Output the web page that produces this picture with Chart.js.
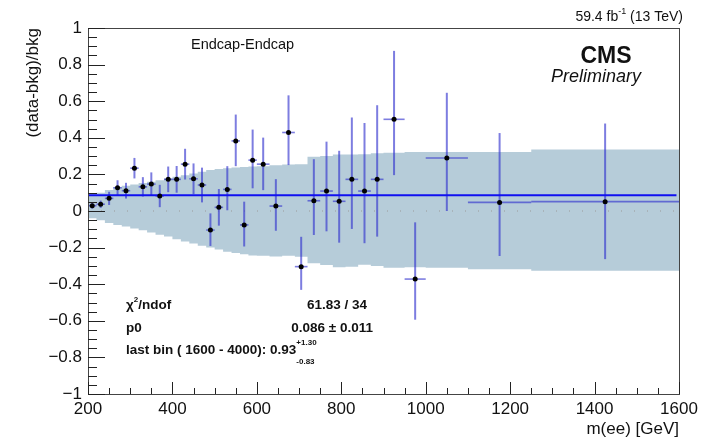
<!DOCTYPE html>
<html>
<head>
<meta charset="utf-8">
<script src="https://cdn.jsdelivr.net/npm/chart.js@4.4.1/dist/chart.umd.min.js"></script>
<style>
  body { margin: 0; background: #fff; }
  canvas { display: block; }
</style>
</head>
<body>
<canvas id="myChart" width="723" height="444"></canvas>
<script>
// BIN EDGES (m(ee) in GeV) - 35 bins
const binEdges = [200, 220, 240, 260, 280, 300, 320, 340, 360, 380, 400, 420, 440, 460, 480,
    500, 520, 540, 560, 580, 600, 630, 660, 690, 720, 750, 780, 810, 840, 870, 900,
    950, 1000, 1100, 1250, 1600];

// (data-bkg)/bkg per bin
const ratio = [0.029, 0.037, 0.069, 0.127, 0.111, 0.234, 0.132, 0.147, 0.082, 0.173,
    0.173, 0.256, 0.176, 0.142, -0.104, 0.020, 0.118, 0.383, -0.076, 0.278,
    0.256, 0.027, 0.429, -0.304, 0.056, 0.109, 0.053, 0.173, 0.109, 0.173,
    0.501, -0.372, 0.290, 0.047, 0.051];

// asymmetric statistical errors
const errUp = [0.016, 0.020, 0.036, 0.041, 0.043, 0.056, 0.053, 0.064, 0.061, 0.070,
    0.073, 0.084, 0.084, 0.095, 0.091, 0.100, 0.127, 0.144, 0.127, 0.167,
    0.145, 0.147, 0.203, 0.163, 0.227, 0.270, 0.276, 0.338, 0.372, 0.405,
    0.374, 0.310, 0.356, 0.379, 0.427];
const errDown = [0.016, 0.020, 0.036, 0.041, 0.043, 0.056, 0.053, 0.064, 0.061, 0.070,
    0.073, 0.084, 0.084, 0.095, 0.087, 0.100, 0.114, 0.138, 0.118, 0.154,
    0.142, 0.135, 0.178, 0.127, 0.187, 0.220, 0.226, 0.271, 0.285, 0.313,
    0.305, 0.222, 0.290, 0.293, 0.314];

// systematic band (upper / lower edge per bin)
const bandUp = [0.095, 0.100, 0.115, 0.130, 0.138, 0.145, 0.153, 0.160, 0.168, 0.177,
    0.187, 0.196, 0.205, 0.215, 0.224, 0.230, 0.234, 0.238, 0.240, 0.243,
    0.245, 0.250, 0.254, 0.256, 0.296, 0.300, 0.309, 0.309, 0.310, 0.316,
    0.318, 0.323, 0.323, 0.323, 0.336];
const bandDown = [-0.040, -0.050, -0.065, -0.076, -0.085, -0.095, -0.105, -0.118, -0.130, -0.140,
    -0.155, -0.167, -0.178, -0.190, -0.200, -0.210, -0.222, -0.230, -0.237, -0.243,
    -0.245, -0.248, -0.245, -0.250, -0.285, -0.295, -0.307, -0.305, -0.294, -0.300,
    -0.310, -0.307, -0.310, -0.318, -0.327];

// constant fit
const fitP0 = 0.086;

// axis ticks
const xMajorStep = 200;
const xMinorStep = 50;
const yMajorStep = 0.2;
const yMinorStep = 0.05;

const FONT = "'Liberation Sans', Arial, Helvetica, sans-serif";
const ERR_COLOR = 'rgba(45, 45, 205, 0.62)';

const binCenter = binEdges.slice(0, -1).map((e, i) => (e + binEdges[i + 1]) / 2);
const binHalf = binEdges.slice(0, -1).map((e, i) => (binEdges[i + 1] - e) / 2);

// step data for the band (one point per bin edge)
const lastBin = bandUp.length - 1;
const bandUpData = binEdges.map((e, i) => ({ x: e, y: bandUp[Math.min(i, lastBin)] }));
const bandDownData = binEdges.map((e, i) => ({ x: e, y: bandDown[Math.min(i, lastBin)] }));
const pointData = binCenter.map((c, i) => ({ x: c, y: ratio[i] }));

function fmtY(v) {
    const a = Number(Math.abs(v).toFixed(1)).toString();
    if (Math.abs(v) < 1e-9) return '0';
    return (v < 0 ? '\u2212' : '') + a;
}

function drawErrorBars(chart) {
    const ctx = chart.ctx;
    const xs = chart.scales.x, ys = chart.scales.y;
    ctx.save();
    ctx.strokeStyle = ERR_COLOR;
    for (let i = 0; i < ratio.length; i++) {
        const cx = xs.getPixelForValue(binCenter[i]);
        const cy = ys.getPixelForValue(ratio[i]);
        // vertical
        ctx.lineWidth = 2;
        ctx.beginPath();
        ctx.moveTo(cx, ys.getPixelForValue(ratio[i] + errUp[i]));
        ctx.lineTo(cx, ys.getPixelForValue(ratio[i] - errDown[i]));
        ctx.stroke();
        // horizontal
        ctx.lineWidth = 1.6;
        ctx.beginPath();
        ctx.moveTo(xs.getPixelForValue(binCenter[i] - binHalf[i]), cy);
        ctx.lineTo(xs.getPixelForValue(binCenter[i] + binHalf[i]), cy);
        ctx.stroke();
    }
    ctx.restore();
}

function text(ctx, str, x, y, font, align) {
    ctx.font = font;
    ctx.textAlign = align || 'left';
    ctx.fillText(str, x, y);
    return ctx.measureText(str).width;
}

const rootStyle = {
    id: 'rootStyle',
    afterDatasetDraw(chart, args) {
        // error bars go above the band, below the fit line
        if (args.index === 2) drawErrorBars(chart);
    },
    afterDraw(chart) {
        const ctx = chart.ctx;
        const a = chart.chartArea;
        const xs = chart.scales.x, ys = chart.scales.y;
        ctx.save();

        // frame
        ctx.strokeStyle = '#444';
        ctx.lineWidth = 1;
        ctx.strokeRect(Math.round(a.left) + 0.5, Math.round(a.top) + 0.5,
            Math.round(a.width), Math.round(a.height));

        // ticks inside the frame
        ctx.strokeStyle = '#222';
        ctx.beginPath();
        for (let m = xs.min; m <= xs.max + 1e-6; m += xMinorStep) {
            const px = Math.round(xs.getPixelForValue(m)) + 0.5;
            const len = (m - xs.min) % xMajorStep === 0 ? 12 : 6;
            ctx.moveTo(px, a.bottom);
            ctx.lineTo(px, a.bottom - len);
        }
        const nY = Math.round((ys.max - ys.min) / yMinorStep);
        const perMajor = Math.round(yMajorStep / yMinorStep);
        for (let k = 0; k <= nY; k++) {
            const py = Math.round(ys.getPixelForValue(ys.min + k * yMinorStep)) + 0.5;
            const len = k % perMajor === 0 ? 17 : 9;
            ctx.moveTo(a.left, py);
            ctx.lineTo(a.left + len, py);
        }
        ctx.stroke();

        // labels
        ctx.fillStyle = '#111';
        ctx.textBaseline = 'middle';
        text(ctx, 'Endcap-Endcap', 191, 45, `14.5px ${FONT}`);
        text(ctx, 'CMS', 606, 57, `bold 23px ${FONT}`, 'center');
        text(ctx, 'Preliminary', 596, 77, `italic 18px ${FONT}`, 'center');

        // lumi label, built right to left
        let rx = 683;
        rx -= text(ctx, ' (13 TeV)', rx, 17, `14px ${FONT}`, 'right');
        rx -= text(ctx, '-1', rx, 12, `9px ${FONT}`, 'right');
        text(ctx, '59.4 fb', rx, 17, `14px ${FONT}`, 'right');

        // fit statistics
        const bold = `bold 13.5px ${FONT}`;
        const small = `bold 8px ${FONT}`;
        let lx = 126;
        lx += text(ctx, '\u03c7', lx, 305, bold);
        lx += text(ctx, '2', lx, 300, small);
        text(ctx, '/ndof', lx, 305, bold);
        text(ctx, '61.83 / 34', 367, 305, bold, 'right');
        text(ctx, 'p0', 126, 328, bold);
        text(ctx, '0.086 \u00b1 0.011', 373, 328, bold, 'right');
        const w = text(ctx, 'last bin ( 1600 - 4000): 0.93', 126, 350, bold);
        text(ctx, '+1.30', 126 + w, 343, small);
        text(ctx, '-0.83', 126 + w, 362, small);

        ctx.restore();
    }
};

const ctx = document.getElementById('myChart').getContext('2d');
const myChart = new Chart(ctx, {
    type: 'scatter',
    plugins: [rootStyle],
    data: {
        datasets: [
            {
                label: 'band up',
                data: bandUpData,
                showLine: true,
                stepped: 'before',
                borderWidth: 0,
                borderColor: 'rgba(0,0,0,0)',
                pointRadius: 0,
                fill: false,
                order: 4
            },
            {
                label: 'band down',
                data: bandDownData,
                showLine: true,
                stepped: 'before',
                borderWidth: 0,
                borderColor: 'rgba(0,0,0,0)',
                backgroundColor: '#b6ccd9',
                pointRadius: 0,
                fill: '-1',
                order: 3
            },
            {
                label: 'zero',
                data: [{ x: 200, y: 0 }, { x: 1600, y: 0 }],
                showLine: true,
                borderColor: '#9a9a9a',
                borderWidth: 1,
                borderDash: [1, 12],
                pointRadius: 0,
                order: 2
            },
            {
                label: 'fit',
                data: [{ x: 200, y: fitP0 }, { x: 1594, y: fitP0 }],
                showLine: true,
                borderColor: '#1010f0',
                borderWidth: 2,
                pointRadius: 0,
                order: 1
            },
            {
                label: 'data',
                data: pointData,
                pointRadius: 2.5,
                pointBackgroundColor: '#000',
                pointBorderWidth: 0,
                order: 0
            }
        ]
    },
    options: {
        responsive: false,
        animation: false,
        devicePixelRatio: 1,
        layout: { padding: { top: 28, right: 44, left: 0, bottom: 0 } },
        plugins: {
            legend: { display: false },
            tooltip: { enabled: false }
        },
        scales: {
            x: {
                type: 'linear',
                min: 200,
                max: 1600,
                afterFit: (scale) => { scale.height = 50; },
                grid: { display: false, drawTicks: false },
                border: { display: false },
                ticks: {
                    stepSize: xMajorStep,
                    autoSkip: false,
                    maxRotation: 0,
                    padding: 5,
                    color: '#111',
                    font: { family: FONT, size: 17 },
                    callback: (v) => String(v)
                },
                title: {
                    display: true,
                    text: 'm(ee) [GeV]',
                    align: 'end',
                    color: '#111',
                    padding: { top: 0, bottom: 4 },
                    font: { family: FONT, size: 17 }
                }
            },
            y: {
                type: 'linear',
                min: -1,
                max: 1,
                afterFit: (scale) => { scale.width = 88; },
                grid: { display: false, drawTicks: false },
                border: { display: false },
                ticks: {
                    stepSize: yMajorStep,
                    autoSkip: false,
                    padding: 6,
                    color: '#111',
                    font: { family: FONT, size: 17 },
                    callback: fmtY
                },
                title: {
                    display: true,
                    text: '(data-bkg)/bkg',
                    align: 'end',
                    color: '#111',
                    padding: { top: 23, bottom: 0 },
                    font: { family: FONT, size: 17 }
                }
            }
        }
    }
});
</script>
</body>
</html>
